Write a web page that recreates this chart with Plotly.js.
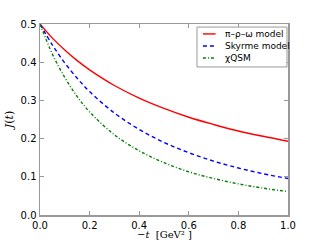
<!DOCTYPE html>
<html><head><meta charset="utf-8">
<script src="https://cdn.plot.ly/plotly-3.0.1.min.js"></script>
<style>html,body{margin:0;padding:0;background:#fff;}#c{width:320px;height:240px;}</style>
</head><body><div id="c"></div>
<script>
const tVals = [0, 0.05, 0.1, 0.15, 0.2, 0.3, 0.4, 0.5, 0.6, 0.7, 0.8, 0.9, 1.0];
const piRhoOmega = [0.5, 0.463, 0.432, 0.404, 0.380, 0.339, 0.306, 0.279, 0.256, 0.237, 0.220, 0.206, 0.193];
const skyrme = [0.5, 0.445, 0.398, 0.358, 0.323, 0.267, 0.224, 0.190, 0.163, 0.141, 0.123, 0.108, 0.0955];
const chiQSM = [0.5, 0.421, 0.360, 0.310, 0.270, 0.210, 0.168, 0.137, 0.113, 0.0956, 0.0815, 0.0703, 0.0613];
const seriesNames = ["π–ρ–ω model", "Skyrme model", "χQSM"];
const seriesColors = ['#ff0000', '#0000ff', '#008000'];
const seriesDash = ['solid', '4px,3px', '3px,2px,1px,2px'];
const xTicks = [0, 0.2, 0.4, 0.6, 0.8, 1.0];
const xTickText = ["0.0", "0.2", "0.4", "0.6", "0.8", "1.0"];
const yTicks = [0, 0.1, 0.2, 0.3, 0.4, 0.5];
const yTickText = ["0.0", "0.1", "0.2", "0.3", "0.4", "0.5"];
const xTitle = '−<i>t</i>  [GeV² ]';
const yTitle = '<i>J</i>(<i>t</i>)';

const seriesData = [piRhoOmega, skyrme, chiQSM];
const traces = seriesData.map((ys, i) => ({
  x: tVals, y: ys, name: seriesNames[i], mode: 'lines', showlegend: false,
  line: {color: seriesColors[i], width: 1.4, dash: seriesDash[i], shape: 'spline'}
}));

// custom legend (box, sample lines, labels) in paper coordinates
const legBox = {x0: 0.633, x1: 0.996, y0: 0.775, y1: 0.984};
const legRows = [0.948, 0.885, 0.822];
const shapes = [{type: 'rect', xref: 'paper', yref: 'paper', x0: legBox.x0, x1: legBox.x1, y0: legBox.y0, y1: legBox.y1,
  line: {color: '#999999', width: 1}, fillcolor: '#ffffff', layer: 'above'}];
const annotations = [];
legRows.forEach((ry, i) => {
  shapes.push({type: 'line', xref: 'paper', yref: 'paper', x0: 0.657, x1: 0.708, y0: ry, y1: ry,
    line: {color: seriesColors[i], width: 1.4, dash: seriesDash[i]}, layer: 'above'});
  annotations.push({xref: 'paper', yref: 'paper', x: 0.738, y: ry, xanchor: 'left', yanchor: 'middle',
    text: seriesNames[i], showarrow: false, font: {family: 'DejaVu Sans', size: 9, color: '#000'}});
});
// x-axis title as annotation for exact placement
annotations.push({xref: 'paper', yref: 'paper', x: 0.5, y: -0.103, xanchor: 'center', yanchor: 'middle',
  borderpad: 0, text: xTitle, showarrow: false, font: {family: 'DejaVu Serif', size: 10, color: '#000'}});

const axisCommon = {
  showgrid: false, zeroline: false, showline: true, mirror: 'ticks',
  linecolor: '#999999', linewidth: 1.5, ticks: 'inside', ticklen: 4, tickcolor: '#999999',
  tickfont: {family: 'DejaVu Sans', size: 10, color: '#000'}
};
const layout = {
  width: 320, height: 240,
  margin: {l: 40, r: 32, t: 24, b: 25},
  paper_bgcolor: '#fff', plot_bgcolor: '#fff',
  showlegend: false,
  shapes: shapes, annotations: annotations,
  xaxis: Object.assign({}, axisCommon, {range: [0, 1], tickvals: xTicks, ticktext: xTickText}),
  yaxis: Object.assign({}, axisCommon, {range: [0, 0.5], tickvals: yTicks, ticktext: yTickText,
    title: {text: yTitle, font: {family: 'DejaVu Serif', size: 11, color: '#000'}, standoff: 4}})
};
Plotly.newPlot('c', traces, layout, {staticPlot: true, displayModeBar: false});
</script></body></html>
